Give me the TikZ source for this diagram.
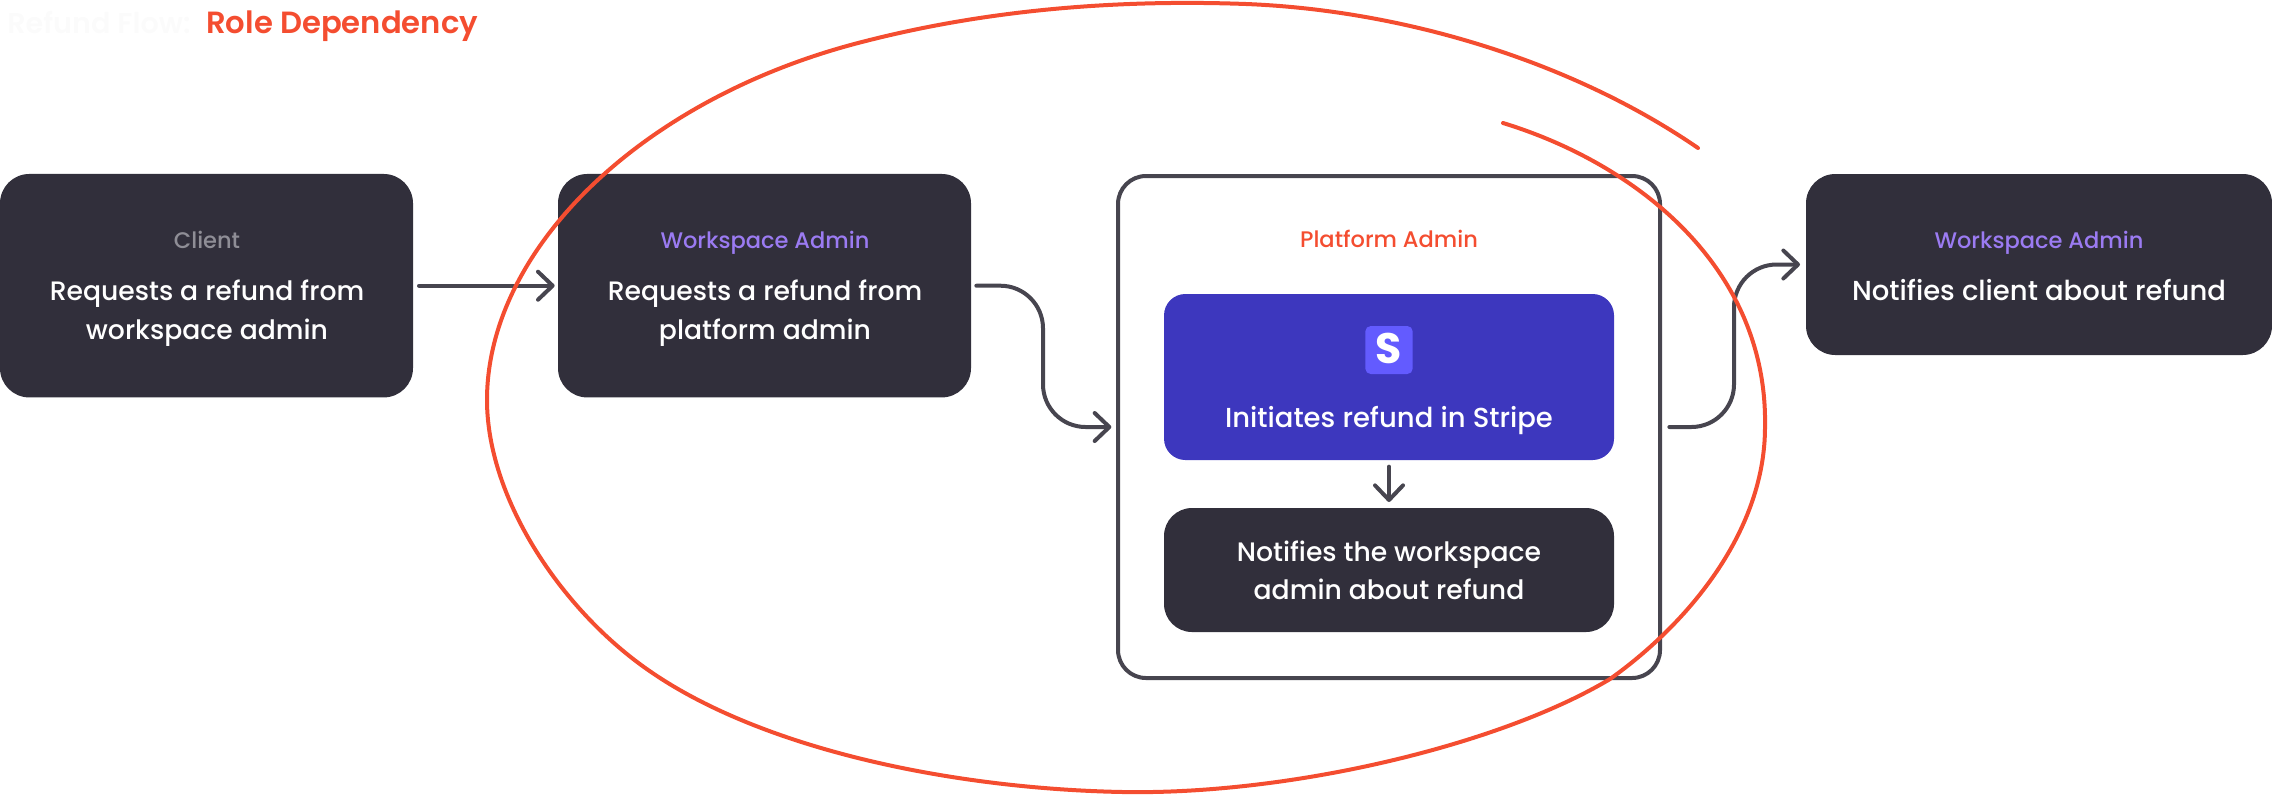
\documentclass[tikz,border=0pt]{standalone}
\usepackage{fontspec}
\setmainfont{Poppins}
\newfontfamily\medfont{Poppins Medium}
\newfontfamily\semifont{Poppins SemiBold}
\usetikzlibrary{arrows.meta}
\definecolor{darkbox}{HTML}{312F3B}
\definecolor{bluebox}{HTML}{3D37BE}
\definecolor{iconblue}{HTML}{635BFF}
\definecolor{purp}{HTML}{9B7BF2}
\definecolor{greylab}{HTML}{8F8E96}
\definecolor{redink}{HTML}{F44D30}
\definecolor{strokec}{HTML}{47454F}
\tikzset{
  box/.style={rectangle,rounded corners=22pt,fill=darkbox,minimum height=167.6pt,minimum width=309.75pt,inner sep=0pt,outer sep=0pt},
  main/.style={anchor=base,text=white,font=\medfont\fontsize{20}{20}\selectfont,inner sep=0pt},
  mainwide/.style={main,font=\medfont\fontsize{20.6}{20}\selectfont},
  lab/.style={anchor=base,font=\medfont\fontsize{16.9}{18}\selectfont,inner sep=0pt},
  conn/.style={draw=strokec,line width=3pt,line cap=round,line join=round,-{Straight Barb[length=11pt,width=21pt,round]}},
  redline/.style={draw=redink,line width=3pt,line cap=round,line join=round}
}
\begin{document}
\begin{tikzpicture}[x=0.75pt,y=-0.75pt]
\useasboundingbox (0,0) rectangle (2272,794);
% title
\node[anchor=base west,inner sep=0pt,text=white!98.5!black,font=\semifont\fontsize{21.5}{24}\selectfont] (t0) at (7,33) {Refund Flow:};
\node[anchor=base west,inner sep=0pt,text=redink,font=\semifont\fontsize{23}{24}\selectfont] (t1) at (206,33) {Role Dependency};
% boxes
\node[box] (client) at (206.5,285.7) {};
\node[box] (wa1) at (764.5,285.7) {};
\node[rectangle,rounded corners=21pt,draw=strokec,line width=3pt,minimum width=406.5pt,minimum height=376.5pt,inner sep=0pt,outer sep=0pt] (platform) at (1389,427) {};
\node[rectangle,rounded corners=16pt,fill=bluebox,minimum width=337.5pt,minimum height=124.5pt,inner sep=0pt,outer sep=0pt] (stripe) at (1389,377) {};
\node[rectangle,rounded corners=21pt,fill=darkbox,minimum width=337.5pt,minimum height=93pt,inner sep=0pt,outer sep=0pt] (notify) at (1389,570) {};
\node[box,minimum width=349.5pt,minimum height=135.75pt] (wa2) at (2039,264.5) {};
\node[rectangle,rounded corners=4pt,fill=iconblue,minimum width=35.5pt,minimum height=36pt,inner sep=0pt] (icon) at (1389,350) {};
\node[inner sep=0pt,text=white,font=\fontsize{32}{32}\selectfont\bfseries] (s) at (1389,348) {S};
% labels
\node[lab,text=greylab] (l1) at (207,248) {Client};
\node[main] (m1a) at (207,300) {Requests a refund from};
\node[main] (m1b) at (207,339) {workspace admin};
\node[lab,text=purp] (l2) at (765,248) {Workspace Admin};
\node[main] (m2a) at (765,300) {Requests a refund from};
\node[main] (m2b) at (765,339) {platform admin};
\node[lab,text=redink] (l3) at (1389,247) {Platform Admin};
\node[mainwide] (m3) at (1389,427) {Initiates refund in Stripe};
\node[main] (m4a) at (1389,561) {Notifies the workspace};
\node[main] (m4b) at (1389,599) {admin about refund};
\node[lab,text=purp] (l5) at (2039,248) {Workspace Admin};
\node[mainwide] (m5) at (2039,300) {Notifies client about refund};
% connectors
\coordinate (mid1) at (1043,356);
\coordinate (mid2) at (1734,345);
\coordinate (a1) at ([xshift=4pt]wa1.east);
\coordinate (b1) at ([xshift=-5pt]platform.west);
\coordinate (a2) at ([xshift=7pt]platform.east);
\coordinate (b2) at ([xshift=-4.5pt]wa2.west);
\draw[conn] ([xshift=4.5pt]client.east) -- ([xshift=-2.5pt]wa1.west);
\draw[conn,rounded corners=32pt] (a1) -- (a1 -| mid1) -- (b1 -| mid1) -- (b1);
\draw[conn,rounded corners=32pt] (a2) -- (a2 -| mid2) -- (b2 -| mid2) -- (b2);
\draw[conn] ([yshift=-5pt]stripe.south) -- ([yshift=4.5pt]notify.north);
% hand-drawn ring
\draw[redline] (1503,123)
 .. controls (1640,165) and (1768,270) .. (1765,427)
 .. controls (1765,530) and (1690,622) .. (1610,679)
 .. controls (1500,745) and (1290,795) .. (1123,792)
 .. controls (960,789) and (770,752) .. (654,674)
 .. controls (564,614) and (487,500) .. (487,400)
 .. controls (487,250) and (640,100) .. (858,43)
 .. controls (980,11) and (1110,-1) .. (1246,4)
 .. controls (1400,10) and (1570,60) .. (1698,148);
\end{tikzpicture}
\end{document}
